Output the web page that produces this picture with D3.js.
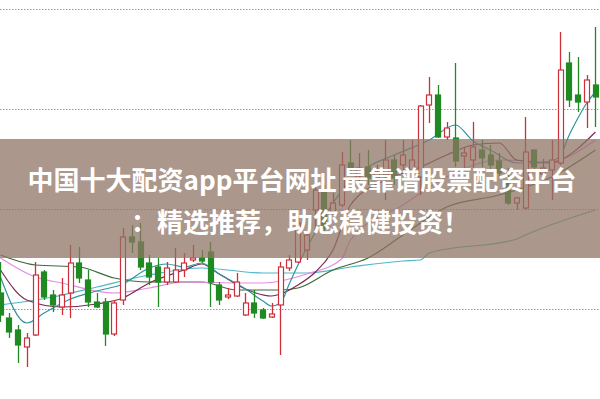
<!DOCTYPE html>
<html><head><meta charset="utf-8">
<script src="https://cdn.jsdelivr.net/npm/d3@7"></script>
<style>html,body{margin:0;padding:0;background:#fff;overflow:hidden}</style>
</head><body><svg id="c" width="600" height="399"></svg>
<script>
const days = d3.range(69).map(i => "D" + (i + 1));
const open  = [11.6,9.1,7.9,6.2,7.4,13.7,11.4,10.2,11.6,14.6,12.9,10.7,10.7,7.5,10.9,17.2,16.7,14.6,14.2,12.7,12.7,13.9,14.9,15.1,15.7,12.4,11.2,11.3,9.4,10.6,9.9,9.2,10.4,14.1,14.7,15.9,19.9,21.9,19.7,20.4,24.6,23.3,24.2,23.1,23.4,24.9,24.4,23.9,23.2,30.4,31.4,27.2,27.1,25.3,24.9,25.9,25.4,24.8,22.7,20.6,20.1,25.9,23.5,23.9,24.6,34.6,31.4,30.7,32.4];
const close = [9.4,7.7,6.4,7.1,13.4,11.2,10.4,11.4,14.6,13.1,10.7,10.2,7.5,10.6,17.2,16.7,14.2,13.2,12.7,14.1,13.9,14.6,15.1,14.8,12.7,10.9,11.4,12.7,10.6,9.6,9.1,9.5,14.2,14.9,18.6,17.4,21.9,18.1,20.6,24.4,24.1,24.1,23.1,23.7,24.9,23.1,25.4,24.9,30.3,31.4,27.2,28.1,24.8,25.6,26.2,25.1,24.4,23.6,20.6,21.1,25.7,24.2,24.1,24.9,33.9,30.9,30.7,32.9,31.2];
const high  = [14.7,9.6,8.4,7.6,14.7,13.9,11.9,13.1,16.4,16.2,13.9,11.6,11.1,10.9,18.1,18.4,18.6,15.4,15.1,14.7,16.1,15.6,16.4,15.9,16.7,12.7,12.1,13.6,11.6,11.9,10.1,10.6,14.7,15.4,19.2,17.9,22.6,22.4,21.6,25.7,26.9,25.6,25.9,24.4,26.9,25.4,26.9,26.9,30.4,33.2,32.4,28.7,34.6,26.1,28.7,26.9,26.4,25.6,24.1,21.2,29.2,25.9,25.0,26.9,37.7,35.7,35.2,33.4,38.2];
const low   = [8.7,7.1,4.6,4.2,7.3,10.9,9.7,9.4,9.1,12.6,10.2,10.1,6.3,7.3,10.4,15.6,13.9,12.4,10.2,12.4,12.6,13.2,14.7,14.6,10.2,10.4,11.0,11.2,9.3,9.1,9.0,9.1,5.4,13.8,14.6,14.9,17.9,17.7,19.4,20.2,23.6,22.4,22.4,22.7,20.9,22.4,23.9,23.4,21.4,28.6,27.1,26.9,24.2,24.1,24.1,24.2,23.9,23.2,20.4,19.9,19.9,23.7,23.3,20.9,24.4,30.2,29.7,28.1,28.2];
const gridValues = [10, 20, 30, 40];
// moving-average lines: [candle index, value]
const maFast   = [[0,13.2],[3,8.6],[5,9.6],[8,11.0],[11,11.8],[14,12.5],[17,14.1],[19,14.5],[21,14.2],[23,14.6],[25,13.5],[28,12.0],[30,10.8],[31,10.3],[32,10.6],[33,12.5],[34,14.4],[36,17.7],[39,21.8],[42,24.2],[45,25.4],[49,26.9],[52,28.4],[54,26.8],[56,25.9],[59,24.6],[61,24.6],[63,24.8],[64,25.4],[65,27.4],[66,29.1],[67,30.6],[68,31.7]];
const maMaroon = [[0,13.9],[3,10.9],[7,10.2],[11,10.5],[14,11.1],[17,12.6],[21,13.9],[23,14.5],[25,13.5],[28,12.0],[31,11.3],[32,11.5],[34,12.4],[36,13.7],[38,15.9],[40,20.4],[44,22.9],[48,24.2],[51,25.4],[54,26.4],[57,26.6],[59,24.9],[63,24.6],[64,24.9],[68,27.7]];
const maPink   = [[0,15.1],[4,13.2],[7,12.6],[13,11.6],[17,12.1],[21,12.7],[28,12.6],[30,12.6],[35,13.5],[39,15.0],[40,16.9],[46,20.4],[51,23.2],[57,24.9],[63,24.7],[64,24.9],[68,26.9]];
const maGreen  = [[0,15.4],[4,14.4],[9,14.2],[13,13.1],[17,12.7],[23,12.7],[27,11.9],[32,11.9],[34,12.1],[38,13.9],[42,15.1],[46,17.4],[51,20.2],[57,21.4],[63,23.2],[68,25.9]];
const maSlow   = [[0,10.4],[6,11.2],[11,12.2],[17,13.4],[23,14.1],[30,13.6],[35,13.6],[40,14.2],[46,14.8],[48,14.9],[49,15.6],[59,17.0],[60,17.4],[68,19.9]];

const svg = d3.select("#c");
const W = 600, H = 399;
const x = d3.scaleBand().domain(days).range([-2.5, 598.45]).paddingInner(0.32);
const y = d3.scaleLinear().domain([10, 40]).range([309, 9]);
const cx = i => x(days[i]) + x.bandwidth() / 2;

svg.append("rect").attr("width", W).attr("height", H).attr("fill", "#fff");
svg.append("g").selectAll("line").data(gridValues).join("line")
  .attr("x1", 0).attr("x2", W).attr("y1", d => Math.round(y(d)) + 0.5).attr("y2", d => Math.round(y(d)) + 0.5)
  .attr("stroke", "#9a9a9a").attr("stroke-dasharray", "1.5,1.5");

const line = d3.line().x(d => cx(d[0])).y(d => y(d[1])).curve(d3.curveMonotoneX);
const mas = [[maSlow, "#4fb8c4"], [maGreen, "#3d6b3a"], [maPink, "#e38ee3"], [maMaroon, "#7a2d50"], [maFast, "#2f95a0"]];
svg.append("g").selectAll("path").data(mas).join("path")
  .attr("d", d => line(d[0])).attr("fill", "none").attr("stroke", d => d[1]).attr("stroke-width", 1.2);

const RED = "#cc2f3a", GREEN = "#1f8a22";
const g = svg.append("g");
days.forEach((d, i) => {
  const up = close[i] >= open[i];
  const col = up ? RED : GREEN;
  const c = Math.round(cx(i)) + 0.5;
  g.append("line").attr("x1", c).attr("x2", c).attr("y1", y(high[i])).attr("y2", y(low[i]))
    .attr("stroke", col).attr("stroke-width", 1.3);
  const top = y(Math.max(open[i], close[i])), bot = y(Math.min(open[i], close[i]));
  g.append("rect").attr("x", Math.round(x(d)) + 0.5).attr("y", top)
    .attr("width", Math.round(x.bandwidth()) - 1).attr("height", Math.max(1, bot - top))
    .attr("fill", up ? "#fff" : GREEN).attr("stroke", col).attr("stroke-width", 1.2);
});

svg.append("rect").attr("x", 0).attr("y", 139).attr("width", W).attr("height", 119)
  .attr("fill", "rgb(143,116,100)").attr("fill-opacity", 0.75);
const t = svg.append("g").attr("font-family", "'Noto Sans CJK SC', sans-serif").attr("font-weight", "bold")
  .attr("font-size", 26).attr("fill", "#fff").attr("text-anchor", "middle");
t.append("text").attr("x", 302).attr("y", 190).text("中国十大配资app平台网址 最靠谱股票配资平台");
t.append("text").attr("x", 300).attr("y", 232).text("：精选推荐，助您稳健投资！");
</script></body></html>
